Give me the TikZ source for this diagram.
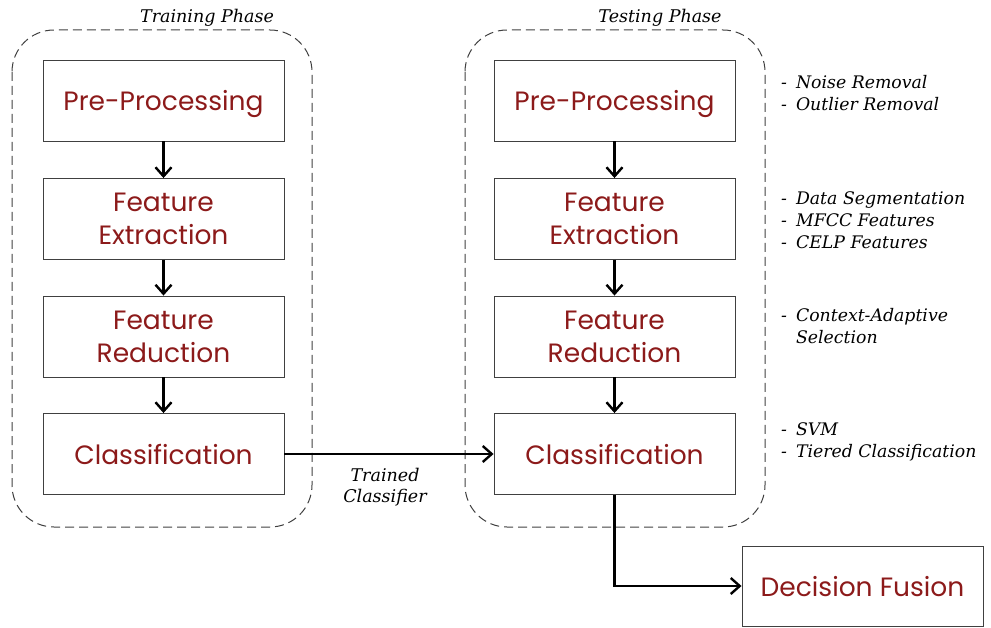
\documentclass[tikz,border=0pt]{standalone}
\usepackage{fontspec}
\setmainfont{DejaVu Serif}
\newfontfamily\boxfont{Poppins}
\usetikzlibrary{arrows.meta}
\definecolor{stepred}{HTML}{8C1A1A}
\definecolor{frame}{HTML}{404040}
\tikzset{
  stage/.style={draw=frame, line width=0.9pt, minimum width=241pt, minimum height=81pt,
    align=center, font=\boxfont\fontsize{26.5}{33}\selectfont, text=stepred, inner sep=0pt,
    text depth=0pt},
  twoline/.style={text depth=-6pt},
  phase/.style={draw=frame, dash pattern=on 9pt off 5pt, line width=1pt, rounded corners=42pt},
  flow/.style={line width=2.6pt, -{Straight Barb[length=9pt,width=16pt,line width=2.4pt]}},
  note/.style={font=\itshape\fontsize{17.3}{22}\selectfont, anchor=west, align=left, inner sep=0pt},
  caption/.style={font=\itshape\fontsize{17.5}{20}\selectfont, inner sep=0pt}
}
\begin{document}
\begin{tikzpicture}[x=1pt,y=-1pt]
\useasboundingbox (0,0) rectangle (991,628);
% phase frames
\draw[phase] (12,30) rectangle (312,527);
\draw[phase] (465,30) rectangle (765,527);
\node[caption] (trainlbl) at (207,18) {Training Phase};
\node[caption] (testlbl) at (660,18) {Testing Phase};
% training pipeline
\node[stage] (tpre) at (163.5,100.5) {Pre-Processing};
\node[stage, twoline] (tfe) at (163.5,219) {Feature\\Extraction};
\node[stage, twoline] (tfr) at (163.5,336.5) {Feature\\Reduction};
\node[stage] (tcl) at (163.5,454) {Classification};
% testing pipeline
\node[stage] (spre) at (614.5,100.5) {Pre-Processing};
\node[stage, twoline] (sfe) at (614.5,219) {Feature\\Extraction};
\node[stage, twoline] (sfr) at (614.5,336.5) {Feature\\Reduction};
\node[stage] (scl) at (614.5,454) {Classification};
% fusion
\node[stage, minimum height=80pt] (fus) at (862.5,586) {Decision Fusion};
% arrows
\draw[flow] (tpre) -- (tfe);
\draw[flow] (tfe) -- (tfr);
\draw[flow] (tfr) -- (tcl);
\draw[flow] (spre) -- (sfe);
\draw[flow] (sfe) -- (sfr);
\draw[flow] (sfr) -- (scl);
\draw[flow] (tcl) -- (scl);
\draw[flow] (scl.south) |- (fus.west);
\node[caption, align=center, font=\itshape\fontsize{17.5}{21}\selectfont] (trained) at (385,487) {Trained\\Classifier};
% annotations
\node[note] (n1) at (781,93) {-\hspace{9pt}Noise Removal\\-\hspace{9pt}Outlier Removal};
\node[note] (n2) at (781,220.5) {-\hspace{9pt}Data Segmentation\\-\hspace{9pt}MFCC Features\\-\hspace{9pt}CELP Features};
\node[note] (n3) at (781,326) {-\hspace{9pt}Context-Adaptive\\\phantom{-}\hspace{9pt}Selection};
\node[note] (n4) at (781,442) {-\hspace{9pt}SVM\\-\hspace{9pt}Tiered Classification};
\end{tikzpicture}
\end{document}
